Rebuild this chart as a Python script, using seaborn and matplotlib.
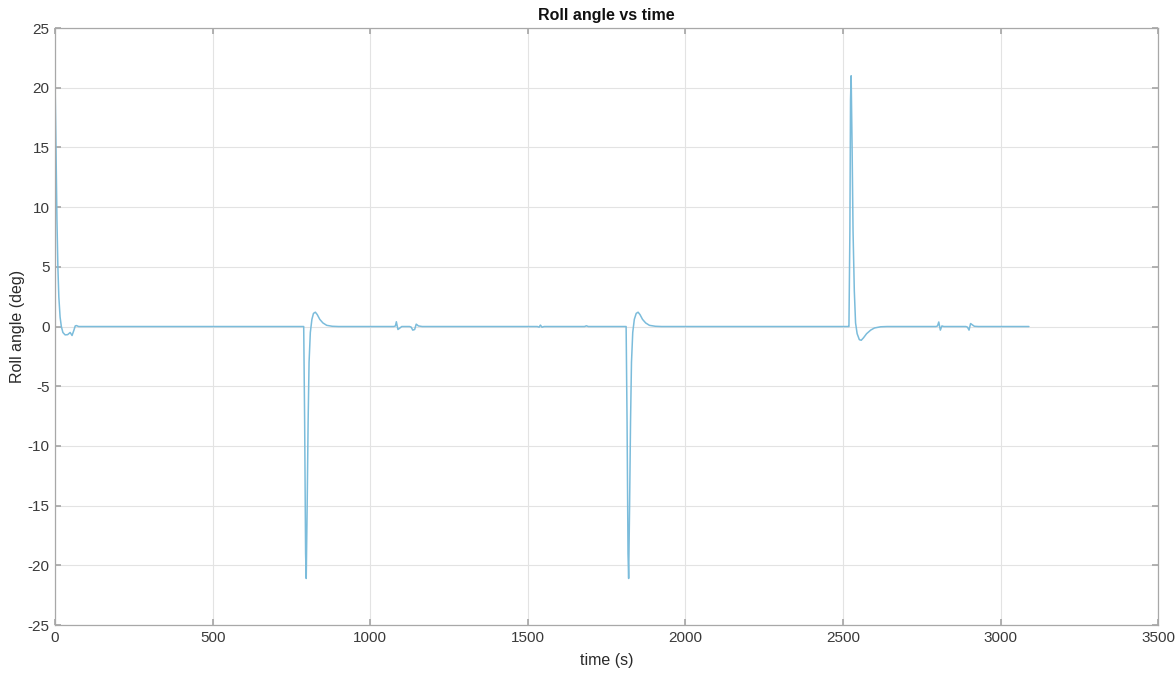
import numpy as np
import pandas as pd
import matplotlib
matplotlib.use("Agg")
import matplotlib.pyplot as plt
import seaborn as sns

# ---- data ----
time_s = [0, 3, 6, 9, 12, 16, 20, 25, 32, 40, 48, 54, 60, 64, 68, 75, 100,
          785, 789, 792, 795, 797, 800, 803, 806, 810, 815, 820, 826, 832, 840, 850, 862, 880, 900,
          1075, 1080, 1083, 1088, 1093, 1100, 1125, 1130, 1135, 1141, 1146, 1153, 1165,
          1530, 1536, 1540, 1545, 1552, 1680, 1686, 1692,
          1808, 1812, 1815, 1818, 1820, 1823, 1826, 1829, 1833, 1838, 1844, 1850, 1856, 1864, 1874, 1886, 1905, 1925,
          2516, 2519, 2522, 2524, 2526, 2529, 2532, 2536, 2540, 2545, 2552, 2558, 2565, 2575, 2588, 2600, 2620, 2640,
          2795, 2800, 2804, 2809, 2814, 2820, 2830,
          2890, 2895, 2900, 2905, 2910, 2917, 2930, 3090]
roll_deg = [20.5, 15.0, 9.0, 5.0, 2.5, 0.8, 0.0, -0.5, -0.7, -0.68, -0.5, -0.75, -0.3, 0.05, 0.08, 0.0, 0.0,
            0.0, 0.0, -8.0, -19.0, -21.1, -15.0, -8.0, -3.0, -0.5, 0.6, 1.1, 1.2, 1.0, 0.6, 0.3, 0.1, 0.02, 0.0,
            0.0, 0.05, 0.4, -0.25, -0.15, 0.0, 0.0, -0.05, -0.3, -0.25, 0.2, 0.05, 0.0,
            0.0, -0.05, 0.12, -0.05, 0.0, 0.0, 0.06, 0.0,
            0.0, 0.0, -8.0, -19.0, -21.1, -15.0, -8.0, -3.0, -0.5, 0.6, 1.1, 1.2, 1.0, 0.6, 0.3, 0.1, 0.02, 0.0,
            0.0, 0.0, 8.0, 19.0, 21.0, 15.0, 8.0, 3.0, 0.3, -0.6, -1.1, -1.15, -0.95, -0.6, -0.3, -0.12, -0.02, 0.0,
            0.0, 0.05, 0.38, -0.3, 0.05, 0.0, 0.0,
            0.0, -0.05, -0.3, 0.25, 0.15, 0.02, 0.0, 0.0]

x_ticks = [0, 500, 1000, 1500, 2000, 2500, 3000, 3500]
y_ticks = [-25, -20, -15, -10, -5, 0, 5, 10, 15, 20, 25]

df = pd.DataFrame({"time": time_s, "roll": roll_deg})

sns.set_theme(style="white")
plt.rcParams['font.family'] = ['Liberation Sans', 'DejaVu Sans']
plt.rcParams['axes.unicode_minus'] = False

fig = plt.figure(figsize=(11.76, 6.75), dpi=100)
ax = fig.add_axes([0.0468, 0.074, 0.938, 0.8845])

sns.lineplot(data=df, x="time", y="roll", sort=False, estimator=None,
             color="#7bbcdb", linewidth=1.1, ax=ax)

ax.set_xlim(0, 3500)
ax.set_ylim(-25, 25)
ax.set_xticks(x_ticks)
ax.set_yticks(y_ticks)
ax.grid(True, color="#e3e3e3", linewidth=0.8)
ax.set_axisbelow(True)
for s in ax.spines.values():
    s.set_visible(True)
    s.set_color("#a8a8a8")
    s.set_linewidth(0.9)
ax.tick_params(direction="in", length=4, color="#a8a8a8", labelsize=11,
               labelcolor="#3a3a3a", bottom=True, left=True, top=True, right=True,
               labeltop=False, labelright=False, pad=4)
ax.set_title("Roll angle vs time", fontsize=11.5, fontweight="bold", color="#111111", pad=6)
ax.set_xlabel("time (s)", fontsize=11.5, color="#2a2a2a", labelpad=6)
ax.set_ylabel("Roll angle (deg)", fontsize=11.5, color="#2a2a2a", labelpad=2)

fig.savefig("out.png", dpi=100, facecolor="white")
